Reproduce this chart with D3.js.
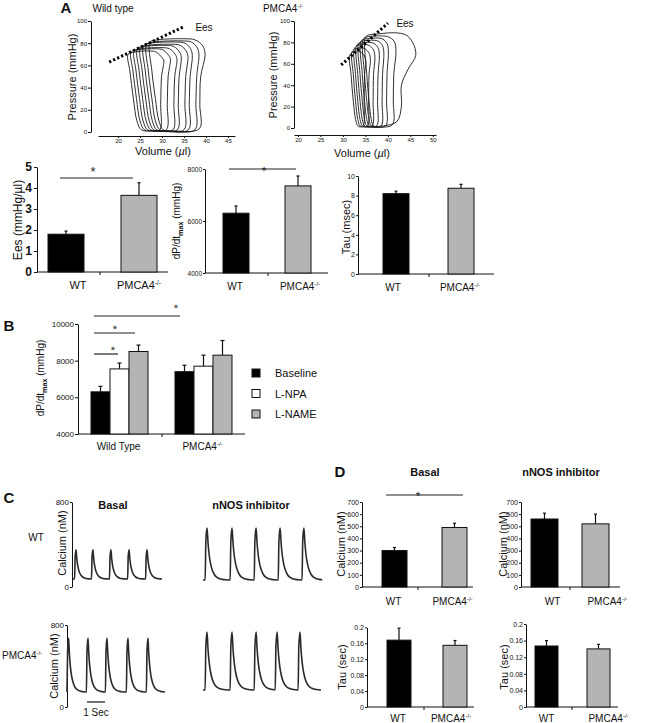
<!DOCTYPE html>
<html><head><meta charset="utf-8">
<script src="https://cdn.jsdelivr.net/npm/d3@7"></script>
<style>body{margin:0;background:#fff}svg{display:block}</style>
</head><body>
<script>
// ---------------- DATA ----------------
// Panel A: pressure-volume loops [volume µl, pressure mmHg]
const wtLoops = [
 [[29.5,2],[29.7,25],[29.9,50],[30.4,65],[30.0,67],[28.7,72],[27.0,73],[23.8,72],[22.3,70],[22.7,55],[23.5,30],[24.3,10],[25.3,2],[27.3,1]],
 [[31.0,2],[31.2,25],[31.4,50],[31.9,66],[31.5,69],[30.2,74],[28.5,75],[24.5,74],[23.0,72],[23.4,55],[24.2,30],[25.0,10],[26.0,2],[28.0,1]],
 [[32.5,2],[32.7,25],[32.9,50],[33.4,66],[33.0,70],[31.7,75],[30.0,76],[25.2,75],[23.7,73],[24.1,55],[24.9,30],[25.7,10],[26.7,2],[28.7,1]],
 [[33.5,2],[33.7,25],[33.9,50],[34.4,67],[34.0,72],[32.7,77],[31.0,78],[25.9,77],[24.4,75],[24.8,55],[25.6,30],[26.4,10],[27.4,2],[29.4,1]],
 [[35.0,2],[35.2,25],[35.4,50],[35.9,68],[35.5,73],[34.2,78],[32.5,79],[26.6,78],[25.1,76],[25.5,55],[26.3,30],[27.1,10],[28.1,2],[30.1,1]],
 [[36.0,2],[36.2,25],[36.4,50],[36.9,69],[36.5,75],[35.2,80],[33.5,81],[27.3,80],[25.8,78],[26.2,55],[27.0,30],[27.8,10],[28.8,2],[30.8,1]],
 [[37.5,2],[37.7,25],[37.9,50],[38.4,70],[38.0,76],[36.7,81],[35.0,82],[28.0,81],[26.5,79],[26.9,55],[27.7,30],[28.5,10],[29.5,2],[31.5,1]],
 [[38.5,3],[38.6,25],[38.8,50],[39.8,70],[39.2,78],[37.5,83],[35.0,84],[29.0,83],[27.3,81],[27.7,55],[28.5,30],[29.3,10],[30.3,2],[32.5,1]]
];
const koLoops = [
 [[34.5,2],[34.7,25],[34.8,50],[35.1,62],[34.8,67],[33.9,71],[33.0,72],[32.3,71],[31.5,68],[31.8,50],[32.3,25],[32.8,8],[33.3,2],[33.8,1]],
 [[35.5,2],[35.7,25],[35.8,50],[36.1,64],[35.8,70],[34.9,74],[34.0,75],[32.8,74],[32.0,71],[32.3,50],[32.8,25],[33.3,8],[33.8,2],[34.5,1]],
 [[36.5,2],[36.7,25],[36.8,50],[37.1,66],[36.8,73],[35.9,77],[35.0,78],[33.3,77],[32.5,74],[32.8,50],[33.3,25],[33.8,8],[34.3,2],[35.0,1]],
 [[37.5,2],[37.7,25],[37.8,50],[38.1,68],[37.8,75],[36.9,79],[36.0,80],[33.8,79],[33.0,77],[33.3,50],[33.8,25],[34.3,8],[34.8,2],[35.8,1]],
 [[38.5,2],[38.7,25],[38.8,50],[39.1,70],[38.8,77],[37.9,81],[37.0,82],[34.3,81],[33.5,79],[33.8,50],[34.3,25],[34.8,8],[35.3,2],[36.5,1]],
 [[39.5,2],[39.7,25],[39.8,50],[40.1,72],[39.8,79],[38.9,83],[38.0,84],[34.8,83],[34.0,81],[34.3,50],[34.8,25],[35.3,8],[35.8,2],[37.0,1]],
 [[41.0,3],[41.2,25],[41.3,50],[41.8,72],[41.4,81],[40.2,85],[39.0,86],[35.3,85],[34.5,83],[34.8,50],[35.3,25],[35.8,8],[36.3,2],[38.0,1]],
 [[42.0,6],[43.0,20],[43.0,40],[44.5,55],[46.2,68],[45.5,80],[44.0,87],[41.5,89],[38.0,88],[35.8,87],[35.0,85],[35.3,50],[35.8,25],[36.3,8],[36.8,2],[39.0,2]]
];
const eesLineWT = [[18,63],[34.8,94.6]];
const eesLineKO = [[29.6,58.9],[40,98]];
const pvTicksY = [0,20,40,60,80,100];
const pvTicksXWT = [20,25,30,35,40,45];
const pvTicksXKO = [20,25,30,35,40,45,50];

// Panel A bottom bar charts
const groups = ["WT","PMCA4-/-"];
const eesMean = [1.8, 3.65], eesErr = [0.15, 0.6];
const dpdtMean = [6300, 7350], dpdtErr = [280, 380];
const tauMsMean = [8.2, 8.75], tauMsErr = [0.25, 0.4];
const eesTicks = [0,1,2,3,4,5];
const dpdtTicks = [4000,6000,8000];
const tauMsTicks = [0,2,4,6,8,10];

// Panel B
const bGroups = ["Wild Type","PMCA4-/-"];
const bSeries = ["Baseline","L-NPA","L-NAME"];
const bWTMean = [6300, 7550, 8500], bWTErr = [300, 320, 350];
const bKOMean = [7400, 7700, 8300], bKOErr = [350, 600, 800];
const bTicks = [4000,6000,8000,10000];

// Panel C calcium transients
const transientPhase = [0, 0.03, 0.08, 0.12, 0.17, 0.23, 0.3, 0.38, 0.47, 0.58, 0.72, 0.85];
const transientLevel = [0, 0.75, 1.0, 0.72, 0.48, 0.31, 0.19, 0.11, 0.06, 0.03, 0.012, 0.004];
const onsetsWTBasal = [0.09, 1.04, 2.05, 3.07, 4.08];
const onsetsWTnNOS  = [0.09, 1.14, 2.15, 3.16, 4.16];
const onsetsKOBasal = [0.0, 0.99, 1.96, 3.03, 4.05];
const onsetsKOnNOS  = [0.09, 1.15, 2.17, 3.06, 4.03];
const traceBase = [75, 66, 146, 166];     // WT basal, WT nNOS, KO basal, KO nNOS (nM)
const tracePeak = [350, 556, 673, 732];
const caTicks = [0, 800];

// Panel D
const caBasalMean = [300, 490], caBasalErr = [25, 35];
const caNNOSMean = [560, 520], caNNOSErr = [48, 80];
const tauBasalMean = [0.168, 0.155], tauBasalErr = [0.03, 0.012];
const tauNNOSMean = [0.147, 0.14], tauNNOSErr = [0.013, 0.011];
const caBarTicks = [0,100,200,300,400,500,600,700];
const tauSecTicks = [0,0.04,0.08,0.12,0.16,0.2];

// ---------------- DRAWING ----------------
const FONT = "'Liberation Sans', Arial, Helvetica, sans-serif";
const svg = d3.select("body").append("svg").attr("width",656).attr("height",723)
  .style("font-family", FONT);
svg.append("rect").attr("width",656).attr("height",723).attr("fill","#fff");

function txt(g, x, y, s, size, o={}) {
  const t = g.append("text").attr("x",x).attr("y",y).attr("font-size",size)
    .attr("text-anchor", o.anchor||"middle").attr("fill","#111").text(s);
  if (o.bold) t.attr("font-weight","bold");
  if (o.rotate) t.attr("transform",`rotate(-90,${x},${y})`);
  return t;
}
function supText(g, x, y, s, size, o={}) {
  const m = s.match(/^(.*?PMCA4)(.*)$/);
  const t = g.append("text").attr("x",x).attr("y",y).attr("font-size",size)
    .attr("text-anchor", o.anchor||"middle").attr("fill","#111");
  if (o.bold) t.attr("font-weight","bold");
  if (m) {
    t.append("tspan").text(m[1]);
    t.append("tspan").attr("font-size",size*0.6).attr("dy",-size*0.4).text(m[2]);
  } else t.text(s);
  return t;
}
function dpdtLabel(g, x, y, size) {
  const t = g.append("text").attr("x",x).attr("y",y).attr("font-size",size)
    .attr("text-anchor","middle").attr("fill","#111").attr("transform",`rotate(-90,${x},${y})`);
  t.append("tspan").text("dP/dt");
  t.append("tspan").attr("font-size",size*0.72).attr("font-weight","bold").attr("dy",size*0.3).text("max");
  t.append("tspan").attr("dy",-size*0.3).text(" (mmHg)");
}
function styleAxis(ax, size) {
  ax.selectAll("path,line").attr("stroke","#111").attr("stroke-width",1);
  ax.selectAll("text").attr("font-size",size).attr("fill","#111").style("font-family",FONT);
}

// ----- PV loop panels -----
function pvPlot(loops, eesPts, xDom, xRng, yRng, yAxisX, xAxisY, xTicks) {
  const g = svg.append("g");
  const x = d3.scaleLinear().domain(xDom).range(xRng);
  const y = d3.scaleLinear().domain([0,100]).range(yRng);
  const ya = g.append("g").attr("transform",`translate(${yAxisX},0)`)
    .call(d3.axisLeft(y).tickValues(pvTicksY).tickSize(3).tickPadding(1).tickSizeOuter(0));
  styleAxis(ya, 6);
  const xa = g.append("g").attr("transform",`translate(0,${xAxisY})`)
    .call(d3.axisBottom(x).tickValues(xTicks).tickSize(2).tickPadding(1).tickSizeOuter(0));
  styleAxis(xa, 6);
  const line = d3.line().x(d=>x(d[0])).y(d=>y(d[1])).curve(d3.curveCatmullRomClosed.alpha(0.5));
  g.selectAll("path.loop").data(loops).join("path").attr("class","loop")
    .attr("d", line).attr("fill","none").attr("stroke","#1a1a1a").attr("stroke-width",0.9);
  g.append("path").attr("d", d3.line().x(d=>x(d[0])).y(d=>y(d[1]))(eesPts))
    .attr("stroke","#000").attr("stroke-width",3).attr("stroke-dasharray","2.2,2.2").attr("fill","none");
  return {g,x,y};
}
const pvWT = pvPlot(wtLoops, eesLineWT, [15.45,46.6], [98,235], [132,21], 91, 136, pvTicksXWT);
const pvKO = pvPlot(koLoops, eesLineKO, [19.1,50.7], [294,436], [128,21], 294, 135, pvTicksXKO);
txt(svg, 66, 13, "A", 15, {bold:true});
txt(svg, 113, 12, "Wild type", 10);
supText(svg, 283, 12, "PMCA4-/-", 10);
txt(svg, 204, 31, "Ees", 10);
txt(svg, 405, 27, "Ees", 10);
txt(svg, 76, 77, "Pressure (mmHg)", 11, {rotate:true});
txt(svg, 277, 75, "Pressure (mmHg)", 11, {rotate:true});
[[163,155],[362,157]].forEach(([cx,cy])=>{
  const t = svg.append("text").attr("x",cx).attr("y",cy).attr("font-size",11).attr("text-anchor","middle").attr("fill","#111");
  t.append("tspan").text("Volume (");
  t.append("tspan").attr("font-style","italic").text("µ");
  t.append("tspan").text("l)");
});

// ----- bar chart helper -----
function barChart(o) {
  const g = svg.append("g");
  const y = d3.scaleLinear().domain(o.domain).range(o.yRange);
  const x = d3.scaleBand().domain(o.cats).range([o.L1, o.L2 + o.w])
    .paddingInner(1 - o.w/(o.L2-o.L1)).paddingOuter(0);
  const ya = g.append("g").attr("transform",`translate(${o.ax},0)`)
    .call(d3.axisLeft(y).tickValues(o.ticks).tickSize(o.tickSize ?? 3).tickPadding(o.tickPad ?? 2)
      .tickSizeOuter(0).tickFormat(o.fmt || d3.format("")));
  styleAxis(ya, o.tickFont);
  if (o.tickBold) ya.selectAll("text").attr("font-weight","bold");
  const y0 = y(o.domain[0]);
  g.append("line").attr("x1",o.ax).attr("x2",o.axEnd).attr("y1",y0).attr("y2",y0).attr("stroke","#111");
  if (o.midTick) g.append("line").attr("x1",o.midTick).attr("x2",o.midTick).attr("y1",y0).attr("y2",y0+3).attr("stroke","#111");
  const fills = o.fills || ["#000","#b4b4b4"];
  o.cats.forEach((c,i)=>{
    const bx = x(c), bw = x.bandwidth(), cx = bx + bw/2;
    const ty = y(o.mean[i]), ey = y(o.mean[i] + o.err[i]);
    g.append("line").attr("x1",cx).attr("x2",cx).attr("y1",ty).attr("y2",ey).attr("stroke","#111").attr("stroke-width",1.2);
    g.append("line").attr("x1",cx-1.5).attr("x2",cx+1.5).attr("y1",ey).attr("y2",ey).attr("stroke","#111").attr("stroke-width",1.2);
    g.append("rect").attr("x",bx).attr("y",ty).attr("width",bw).attr("height",y0-ty)
      .attr("fill",fills[i]).attr("stroke","#111").attr("stroke-width",1);
    supText(g, cx + (o.labelDx ? o.labelDx[i] : 0), o.labelY, c, o.labelFont);
  });
  return {g,x,y};
}
function sig(x1, x2, yl, sx, sy, size) {
  svg.append("line").attr("x1",x1).attr("x2",x2).attr("y1",yl).attr("y2",yl).attr("stroke","#222").attr("stroke-width",1.2);
  txt(svg, sx, sy, "*", size || 12).attr("fill","#222").style("text-rendering","geometricPrecision");
}

// A bottom
barChart({cats:groups, mean:eesMean, err:eesErr, domain:[0,5], yRange:[272,167], ticks:eesTicks,
  ax:37, axEnd:168, L1:48, L2:121, w:36, midTick:100, tickFont:12, tickBold:true,
  labelY:289, labelFont:11, labelDx:[12,0]});
txt(svg, 22, 220, "Ees (mmHg/µl)", 12, {rotate:true});
sig(60, 133, 178, 93, 176, 13);

barChart({cats:groups, mean:dpdtMean, err:dpdtErr, domain:[4000,8000], yRange:[273,169], ticks:dpdtTicks,
  ax:205, axEnd:328, L1:223, L2:285, w:26, midTick:268, tickFont:6.5, tickSize:2, tickPad:1,
  labelY:290, labelFont:10, labelDx:[-1,2]});
dpdtLabel(svg, 180, 221, 10);
sig(229, 296, 169, 264, 175, 12);

barChart({cats:groups, mean:tauMsMean, err:tauMsErr, domain:[0,10], yRange:[274,176], ticks:tauMsTicks,
  ax:358, axEnd:494, L1:383, L2:448, w:26, midTick:429, tickFont:7, tickSize:2, tickPad:1,
  labelY:291, labelFont:10, labelDx:[-3,-1]});
txt(svg, 350, 227, "Tau (msec)", 11, {rotate:true});

// ----- Panel B -----
txt(svg, 9, 331, "B", 15, {bold:true});
{
  const g = svg.append("g");
  const y = d3.scaleLinear().domain([4000,10000]).range([434,324]);
  const xg = d3.scaleBand().domain(bGroups).range([91,232]).paddingInner(1-57/84).paddingOuter(0);
  const xs = d3.scaleBand().domain(bSeries).range([0, xg.bandwidth()]).padding(0);
  const ya = g.append("g").attr("transform","translate(78,0)")
    .call(d3.axisLeft(y).tickValues(bTicks).tickSize(3).tickPadding(1).tickSizeOuter(0).tickFormat(d3.format("d")));
  styleAxis(ya, 8);
  g.append("line").attr("x1",78).attr("x2",245).attr("y1",434).attr("y2",434).attr("stroke","#111");
  g.append("line").attr("x1",162).attr("x2",162).attr("y1",434).attr("y2",437).attr("stroke","#111");
  const fills = ["#000","#fff","#b4b4b4"];
  const means = [bWTMean, bKOMean], errs = [bWTErr, bKOErr];
  bGroups.forEach((grp, gi)=>{
    bSeries.forEach((s, si)=>{
      const bx = xg(grp) + xs(s), bw = xs.bandwidth(), cx = bx + bw/2;
      const ty = y(means[gi][si]), ey = y(means[gi][si] + errs[gi][si]);
      g.append("line").attr("x1",cx).attr("x2",cx).attr("y1",ty).attr("y2",ey).attr("stroke","#111").attr("stroke-width",1.2);
      g.append("line").attr("x1",cx-2).attr("x2",cx+2).attr("y1",ey).attr("y2",ey).attr("stroke","#111").attr("stroke-width",1.2);
      g.append("rect").attr("x",bx).attr("y",ty).attr("width",bw).attr("height",434-ty)
        .attr("fill",fills[si]).attr("stroke","#111").attr("stroke-width",1);
    });
    supText(g, xg(grp) + xg.bandwidth()/2 - 1, 450, grp, 10);
  });
  dpdtLabel(svg, 44, 378, 10);
  // legend
  bSeries.forEach((s, si)=>{
    const ly = 369 + si*20.5;
    g.append("rect").attr("x",252).attr("y",ly).attr("width",8).attr("height",8)
      .attr("fill",fills[si]).attr("stroke","#111").attr("stroke-width",1);
    txt(g, 275, ly+8, s, 11, {anchor:"start"});
  });
}
sig(94, 180, 316, 176, 312, 11);
sig(94, 135, 333, 115, 333, 11);
sig(94, 118, 354, 113, 354, 11);

// ----- Panel C -----
txt(svg, 9, 503, "C", 15, {bold:true});
txt(svg, 113, 509, "Basal", 11, {bold:true});
txt(svg, 251, 509, "nNOS inhibitor", 11, {bold:true});
txt(svg, 36, 541, "WT", 10);
supText(svg, 2, 659, "PMCA4-/-", 10, {anchor:"start"});

function trace(onsets, base, peak, xRng, yRng) {
  const x = d3.scaleLinear().domain([0,5]).range(xRng);
  const y = d3.scaleLinear().domain([0,800]).range(yRng);
  const pts = [[0, base]];
  onsets.forEach(t0 => {
    transientPhase.forEach((p, i) => pts.push([t0 + p, base + transientLevel[i]*(peak-base)]));
  });
  pts.push([5, base]);
  svg.append("path").attr("d", d3.line().x(d=>x(d[0])).y(d=>y(d[1])).curve(d3.curveMonotoneX)(pts))
    .attr("fill","none").attr("stroke","#2a2a2a").attr("stroke-width",1.6);
  return {x,y};
}
function caAxis(ax, yRng) {
  const y = d3.scaleLinear().domain([0,800]).range(yRng);
  const a = svg.append("g").attr("transform",`translate(${ax},0)`)
    .call(d3.axisLeft(y).tickValues(caTicks).tickSize(2).tickPadding(1).tickSizeOuter(0));
  styleAxis(a, 8);
}
caAxis(72, [587,502]);
caAxis(67, [707,625]);
txt(svg, 66, 543, "Calcium (nM)", 11, {rotate:true});
txt(svg, 58, 666, "Calcium (nM)", 11, {rotate:true});
trace(onsetsWTBasal, traceBase[0], tracePeak[0], [73,162], [587,502]);
trace(onsetsWTnNOS, traceBase[1], tracePeak[1], [203,322], [587,502]);
trace(onsetsKOBasal, traceBase[2], tracePeak[2], [67,165], [707,625]);
trace(onsetsKOnNOS, traceBase[3], tracePeak[3], [203,321], [707,625]);
svg.append("line").attr("x1",87).attr("x2",105).attr("y1",702).attr("y2",702).attr("stroke","#111").attr("stroke-width",1.2);
txt(svg, 96, 716, "1 Sec", 10);

// ----- Panel D -----
txt(svg, 340, 477, "D", 15, {bold:true});
txt(svg, 425, 476, "Basal", 11, {bold:true});
txt(svg, 561, 476, "nNOS inhibitor", 11, {bold:true});

barChart({cats:groups, mean:caBasalMean, err:caBasalErr, domain:[0,700], yRange:[587,502], ticks:caBarTicks,
  ax:362, axEnd:473, L1:382, L2:442, w:25, midTick:418, tickFont:7, tickSize:2, tickPad:1,
  labelY:605, labelFont:10, labelDx:[-1,-2]});
txt(svg, 345, 544, "Calcium (nM)", 11, {rotate:true});
sig(386, 463, 495, 418, 500, 12);

barChart({cats:groups, mean:caNNOSMean, err:caNNOSErr, domain:[0,700], yRange:[587,502], ticks:caBarTicks,
  ax:521, axEnd:620, L1:531, L2:582, w:27, midTick:570, tickFont:7, tickSize:2, tickPad:1,
  labelY:605, labelFont:10, labelDx:[8,12]});
txt(svg, 507, 544, "Calcium (nM)", 11, {rotate:true});

barChart({cats:groups, mean:tauBasalMean, err:tauBasalErr, domain:[0,0.2], yRange:[707,627.4], ticks:tauSecTicks,
  ax:367, axEnd:474, L1:387, L2:443, w:24, midTick:424, tickFont:7, tickSize:2, tickPad:1,
  labelY:722, labelFont:10, labelDx:[-1,-4]});
txt(svg, 346, 667, "Tau (sec)", 11, {rotate:true});

barChart({cats:groups, mean:tauNNOSMean, err:tauNNOSErr, domain:[0,0.2], yRange:[707,624], ticks:tauSecTicks,
  ax:526, axEnd:618, L1:535, L2:587, w:23, midTick:572, tickFont:7, tickSize:2, tickPad:1,
  labelY:722, labelFont:10, labelDx:[0,10]});
txt(svg, 508, 667, "Tau (sec)", 11, {rotate:true});
</script>
</body></html>
